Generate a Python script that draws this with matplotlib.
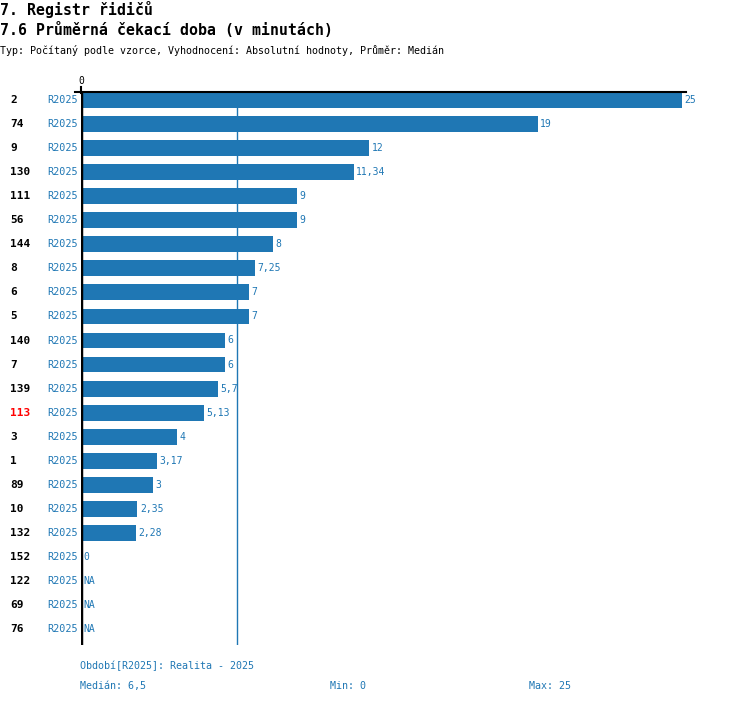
import matplotlib
matplotlib.use("Agg")
import matplotlib.pyplot as plt
import numpy as np

plt.rcParams['font.family'] = ['DejaVu Sans Mono']

ids = ["2", "74", "9", "130", "111", "56", "144", "8", "6", "5", "140", "7",
       "139", "113", "3", "1", "89", "10", "132", "152", "122", "69", "76"]
values = [25, 19, 12, 11.34, 9, 9, 8, 7.25, 7, 7, 6, 6,
          5.7, 5.13, 4, 3.17, 3, 2.35, 2.28, 0, None, None, None]
period = "R2025"
highlight = "113"
median = 6.5
vmin = 0
vmax = 25

blue = "#1f77b4"
W, H = 750, 704
fig = plt.figure(figsize=(W / 100, H / 100), dpi=100)

# axes placed in pixel coordinates
x0, x1 = 81, 682
y_top, y_bot = 92, 645
ax = fig.add_axes([x0 / W, 1 - y_bot / H, (x1 - x0) / W, (y_bot - y_top) / H])
n = len(ids)
row0 = 100
step = 24.05
ax.set_xlim(0, 25)
ax.set_ylim((y_bot - row0) / step, (y_top - row0) / step)
ax.axis("off")

for i, v in enumerate(values):
    if v is not None and v > 0:
        ax.barh(i, v, height=0.66, color=blue)
    if v is None:
        txt = "NA"
    else:
        txt = ("%g" % v).replace(".", ",")
    ax.text((v or 0) + 0.1, i, txt, color=blue, fontsize=7, va="center", ha="left")

ax.axvline(median, color=blue, lw=1)
ax.axvline(0, color="black", lw=2.5)

def fy(py):
    return 1 - py / H

# horizontal top line and extended axis top
fig.add_artist(plt.Line2D([75 / W, 686 / W], [fy(92), fy(92)], color="black", lw=1.5))
fig.add_artist(plt.Line2D([81 / W, 81 / W], [fy(87), fy(93)], color="black", lw=1.5))
fig.text(81 / W, fy(81), "0", fontsize=7, ha="center", va="center")

for i, lab in enumerate(ids):
    py = row0 + step * i
    fig.text(10 / W, fy(py), lab, fontsize=8, fontweight="bold",
             color="red" if lab == highlight else "black", ha="left", va="center")
    fig.text(47 / W, fy(py), period, fontsize=7.3, color=blue, ha="left", va="center")

fig.text(0, fy(9), "7. Registr řidičů", fontsize=10.7, fontweight="bold", ha="left", va="center")
fig.text(0, fy(30), "7.6 Průměrná čekací doba (v minutách)", fontsize=10.7, fontweight="bold",
         ha="left", va="center")
fig.text(0, fy(51), "Typ: Počítaný podle vzorce, Vyhodnocení: Absolutní hodnoty, Průměr: Medián",
         fontsize=7.2, ha="left", va="center")

fig.text(80 / W, fy(666), "Období[R2025]: Realita - 2025", fontsize=7.2, color=blue, ha="left", va="center")
fig.text(80 / W, fy(686), "Medián: " + str(median).replace(".", ","), fontsize=7.2, color=blue,
         ha="left", va="center")
fig.text(330 / W, fy(686), "Min: %g" % vmin, fontsize=7.2, color=blue, ha="left", va="center")
fig.text(529 / W, fy(686), "Max: %g" % vmax, fontsize=7.2, color=blue, ha="left", va="center")

fig.savefig("out.png", dpi=100)
